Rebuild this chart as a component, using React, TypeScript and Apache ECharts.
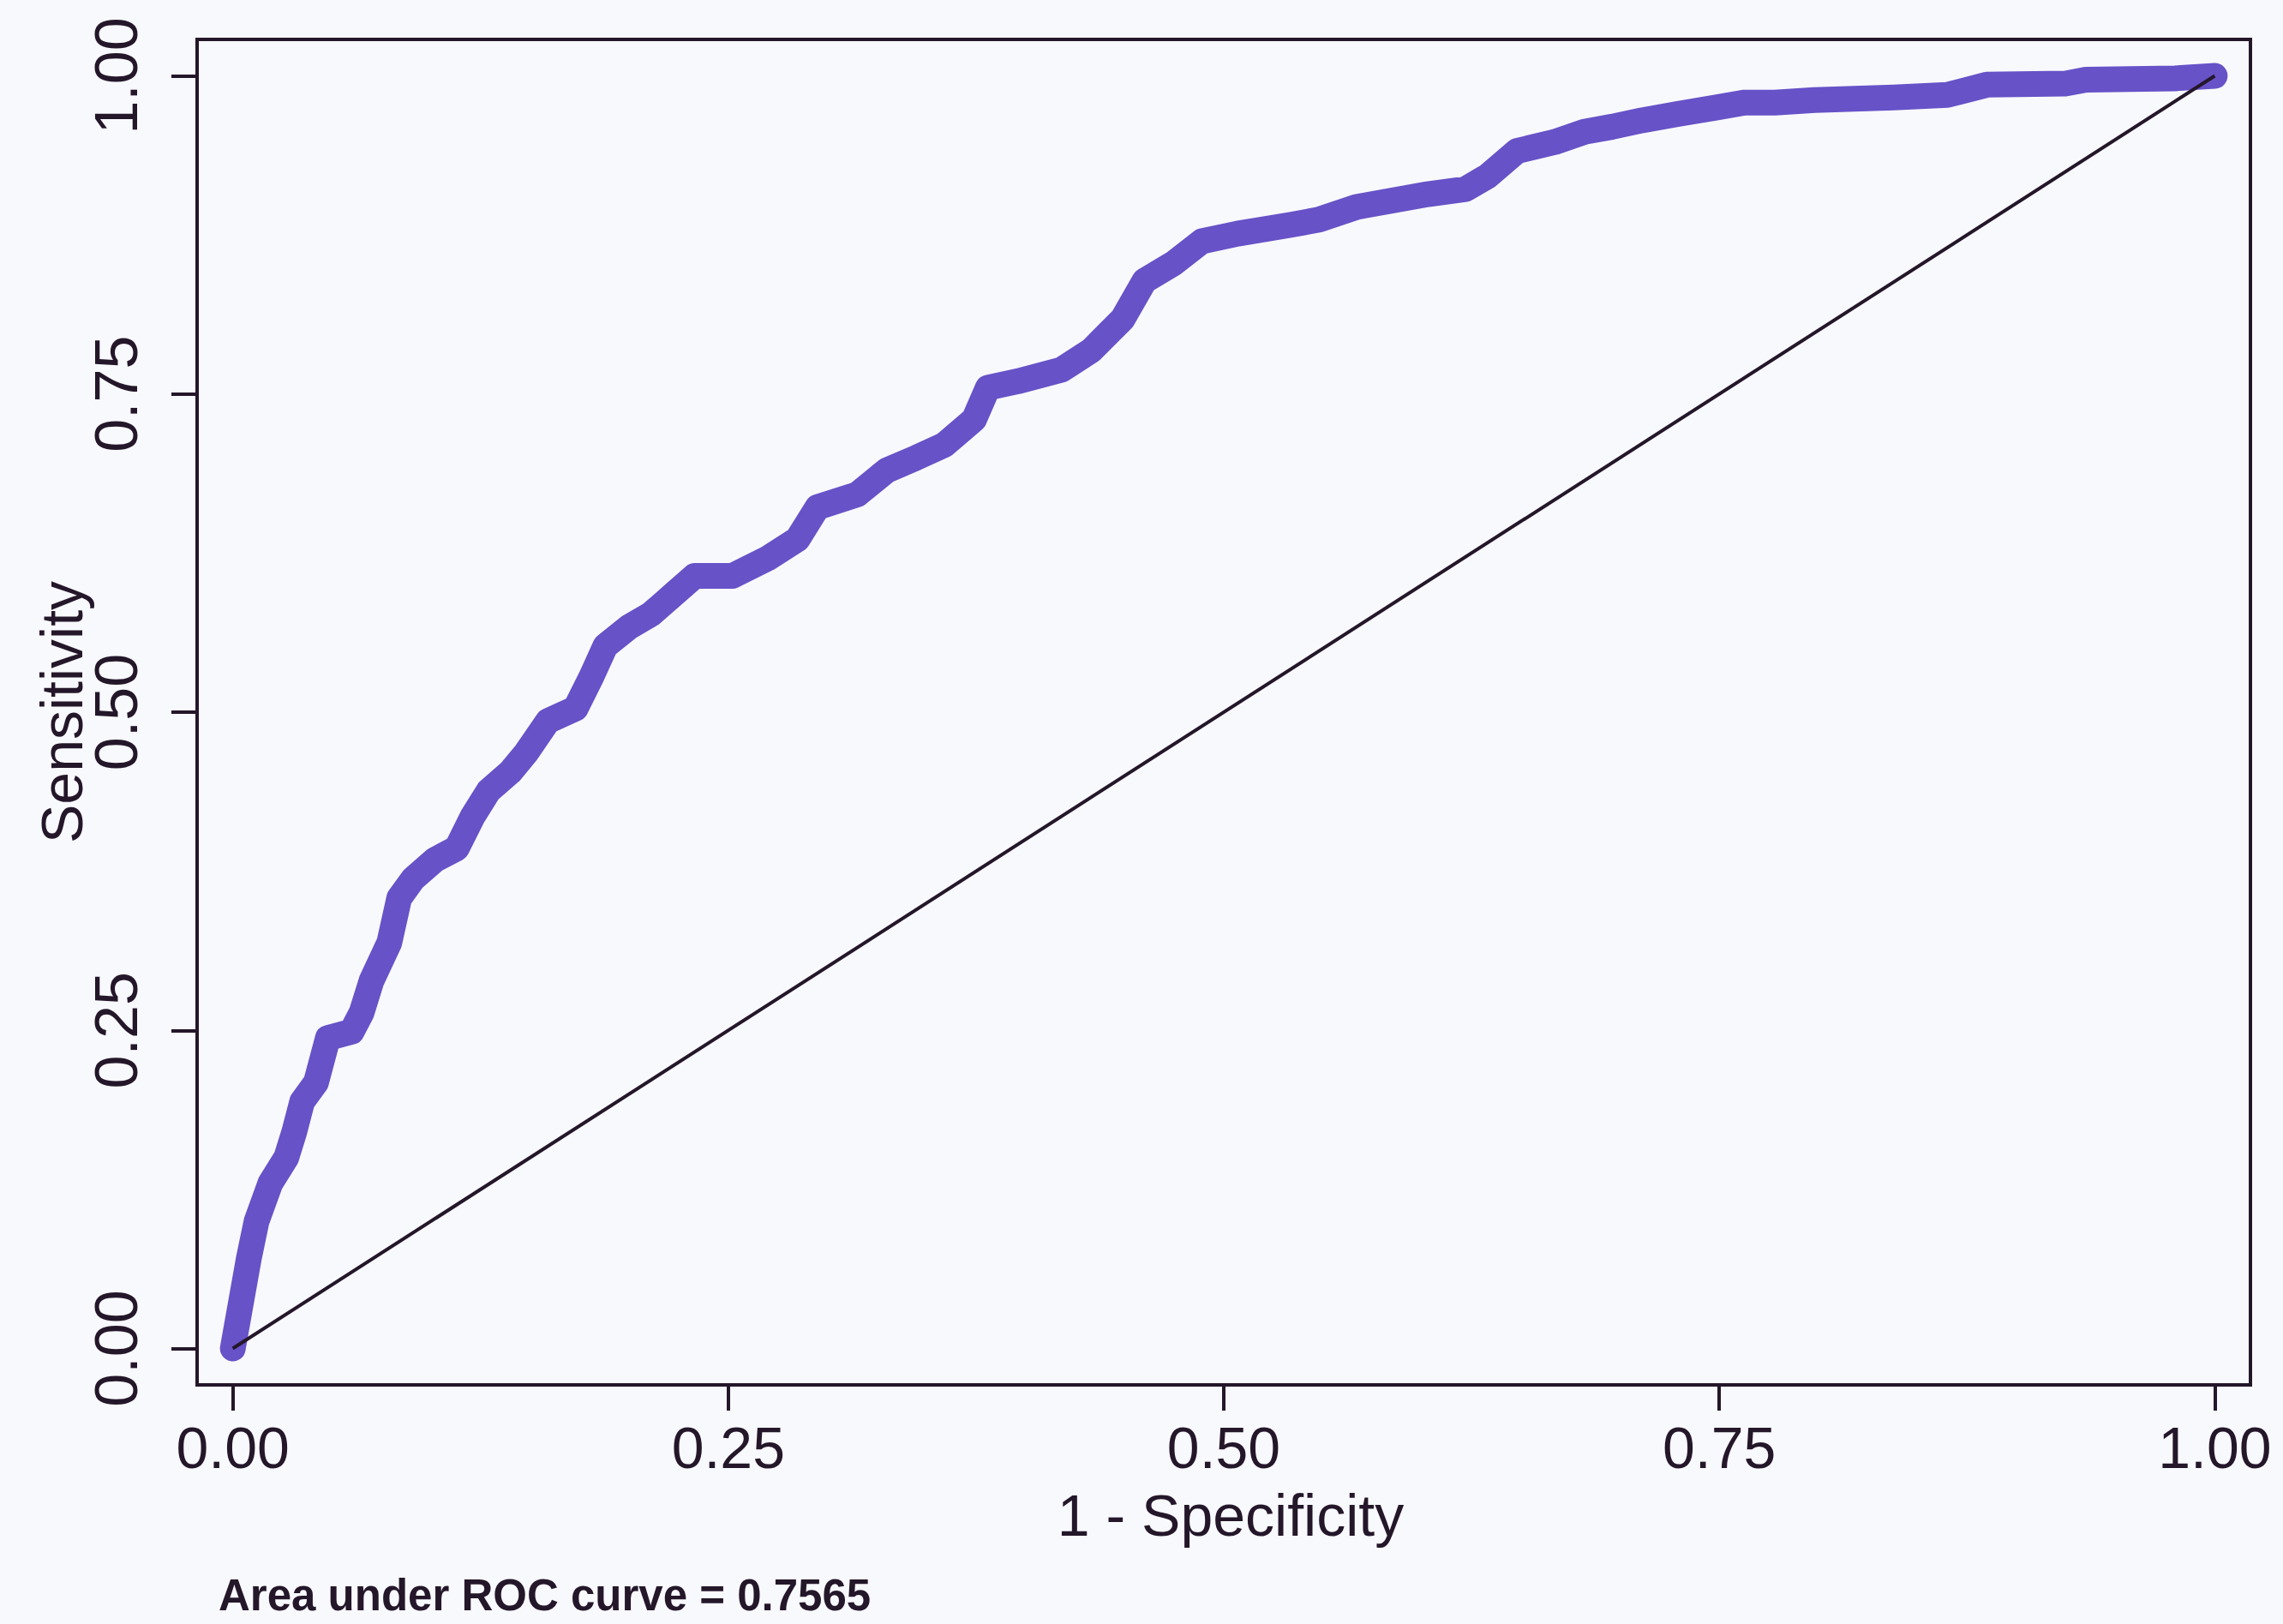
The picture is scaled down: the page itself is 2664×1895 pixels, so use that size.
import React, { useEffect, useRef } from "react";
import * as echarts from "echarts";

// ---- data ----
const xTicks = [0, 0.25, 0.5, 0.75, 1];
const yTicks = [0, 0.25, 0.5, 0.75, 1];

// 1 - specificity (x) and sensitivity (y) along the ROC curve
const oneMinusSpecificity = [
  0, 0.004, 0.008, 0.012, 0.019, 0.027, 0.031, 0.035, 0.042, 0.048,
  0.06, 0.065, 0.07, 0.079, 0.084, 0.091, 0.102, 0.113, 0.121, 0.129,
  0.14, 0.148, 0.159, 0.173, 0.181, 0.188, 0.2, 0.211, 0.222, 0.233,
  0.252, 0.27, 0.285, 0.295, 0.315, 0.33, 0.345, 0.359, 0.374, 0.381,
  0.396, 0.418, 0.433, 0.449, 0.46, 0.475, 0.489, 0.507, 0.534, 0.548,
  0.567, 0.585, 0.603, 0.622, 0.633, 0.648, 0.667, 0.682, 0.696, 0.711,
  0.729, 0.748, 0.763, 0.778, 0.798, 0.838, 0.865, 0.885, 0.925, 0.935,
  0.98, 1,
];
const sensitivity = [
  0, 0.035, 0.07, 0.1, 0.13, 0.15, 0.17, 0.194, 0.209, 0.244,
  0.249, 0.264, 0.289, 0.319, 0.354, 0.369, 0.384, 0.393, 0.418, 0.438,
  0.453, 0.468, 0.493, 0.503, 0.528, 0.552, 0.567, 0.577, 0.592, 0.607,
  0.607, 0.621, 0.636, 0.661, 0.671, 0.69, 0.7, 0.71, 0.73, 0.755,
  0.76, 0.769, 0.784, 0.809, 0.839, 0.853, 0.87, 0.876, 0.883, 0.887,
  0.897, 0.902, 0.907, 0.911, 0.921, 0.941, 0.948, 0.956, 0.96, 0.965,
  0.97, 0.975, 0.979, 0.979, 0.981, 0.983, 0.985, 0.993, 0.994, 0.997,
  0.998, 1,
];

// reference (chance) line
const referenceX = [0, 1];
const referenceY = [0, 1];

const xTitle = "1 - Specificity";
const yTitle = "Sensitivity";
const aucNote = "Area under ROC curve = 0.7565";

export default function App() {
  const ref = useRef<HTMLDivElement>(null);

  useEffect(() => {
    if (!ref.current) return;
    const chart = echarts.init(ref.current, undefined, { renderer: "svg" });
    const ink = "#24172a";
    const font = "'Liberation Sans', Arial, sans-serif";

    const rocData = oneMinusSpecificity.map((x, i) => [x, sensitivity[i]]);
    const refData = referenceX.map((x, i) => [x, referenceY[i]]);

    chart.setOption({
      animation: false,
      backgroundColor: "#f8f9fc",
      title: {
        text: aucNote,
        left: 255,
        top: 1836,
        padding: 0,
        textStyle: {
          fontFamily: font,
          fontSize: 51,
          fontWeight: "bold",
          color: ink,
        },
      },
      grid: {
        left: 230,
        right: 38,
        top: 46,
        bottom: 279,
        show: true,
        borderColor: ink,
        borderWidth: 4,
        backgroundColor: "transparent",
      },
      xAxis: {
        type: "value",
        min: -0.018,
        max: 1.018,
        axisLine: { show: false, onZero: false },
        splitLine: { show: false },
        axisTick: {
          show: true,
          customValues: xTicks,
          length: 30,
          inside: false,
          lineStyle: { color: ink, width: 4 },
        },
        axisLabel: {
          customValues: xTicks,
          formatter: (v: number) => v.toFixed(2),
          fontFamily: font,
          fontSize: 68,
          lineHeight: 56,
          color: ink,
          margin: 45,
        },
        name: xTitle,
        nameLocation: "middle",
        nameGap: 124,
        nameMoveOverlap: false,
        nameTextStyle: {
          fontFamily: font,
          fontSize: 68,
          lineHeight: 56,
          color: ink,
          padding: [0, 0, 0, 16],
        },
      },
      yAxis: {
        type: "value",
        min: -0.0286,
        max: 1.0286,
        axisLine: { show: false, onZero: false },
        splitLine: { show: false },
        axisTick: {
          show: true,
          customValues: yTicks,
          length: 30,
          inside: false,
          lineStyle: { color: ink, width: 4 },
        },
        axisLabel: {
          customValues: yTicks,
          formatter: (v: number) => v.toFixed(2),
          rotate: 90,
          fontFamily: font,
          fontSize: 70,
          lineHeight: 56,
          color: ink,
          margin: 66,
        },
        name: yTitle,
        nameLocation: "middle",
        nameGap: 130,
        nameMoveOverlap: false,
        nameTextStyle: {
          fontFamily: font,
          fontSize: 68,
          lineHeight: 56,
          color: ink,
        },
      },
      series: [
        {
          type: "line",
          data: rocData,
          showSymbol: false,
          smooth: false,
          lineStyle: {
            color: "#6752c8",
            width: 30,
            cap: "round",
            join: "round",
          },
          z: 2,
        },
        {
          type: "line",
          data: refData,
          showSymbol: false,
          lineStyle: { color: ink, width: 4 },
          z: 3,
        },
      ],
    });

    return () => chart.dispose();
  }, []);

  return (
    <div
      ref={ref}
      style={{ position: "fixed", left: 0, top: 0, width: 2664, height: 1895 }}
    />
  );
}
